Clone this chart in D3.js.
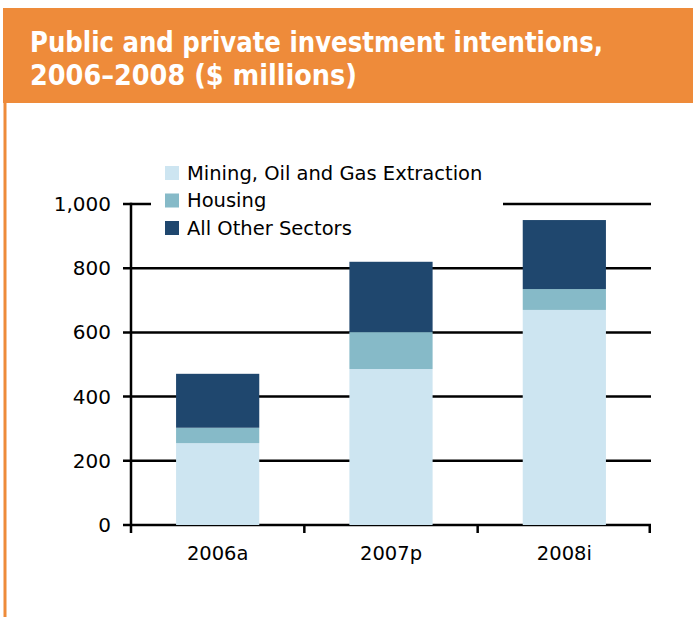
<!DOCTYPE html>
<html>
<head>
<meta charset="utf-8">
<script src="https://cdn.jsdelivr.net/npm/d3@7/dist/d3.min.js"></script>
<style>
  html, body { margin: 0; padding: 0; background: #fff; }
  svg { display: block; }
  text { font-family: "DejaVu Sans", sans-serif; }
</style>
</head>
<body>
<svg id="chart" width="693" height="617"></svg>
<script>
// Investment intentions by year, $ millions
const categories = ["2006a", "2007p", "2008i"];
const seriesNames = ["Mining, Oil and Gas Extraction", "Housing", "All Other Sectors"];
const mining = [255, 486, 670];
const housing = [48, 115, 65];
const otherSectors = [168, 219, 215];
const yTicks = [0, 200, 400, 600, 800, 1000];
const colors = ["#cde5f1", "#86bac8", "#1f476e"];

const titleLines = ["Public and private investment intentions,", "2006\u20132008 ($ millions)"];
const titleWidths = [573, 327];

const svg = d3.select("#chart");
const orange = "#ee8b3a";

// Header band and left rule
svg.append("rect").attr("x", 3).attr("y", 8).attr("width", 690).attr("height", 95).attr("fill", orange);
svg.append("rect").attr("x", 3.5).attr("y", 100).attr("width", 3).attr("height", 517).attr("fill", orange);

svg.append("g").selectAll("text").data(titleLines).join("text")
  .attr("x", 30)
  .attr("y", (d, i) => 52 + i * 33)
  .attr("fill", "#fff")
  .attr("font-size", 29)
  .attr("font-weight", "bold")
  .style("font-stretch", "condensed")
  .attr("textLength", (d, i) => titleWidths[i])
  .attr("lengthAdjust", "spacingAndGlyphs")
  .text(d => d);

// Scales
const x = d3.scaleBand().domain(categories).range([131, 651]).padding(0);
const y = d3.scaleLinear().domain([0, 1000]).range([525, 204]);
const barW = x.bandwidth() * 0.48;

const table = categories.map((c, i) => ({
  cat: c,
  [seriesNames[0]]: mining[i],
  [seriesNames[1]]: housing[i],
  [seriesNames[2]]: otherSectors[i]
}));
const stacked = d3.stack().keys(seriesNames)(table);

// Gridlines (sit behind the bars)
const lineW = 2.5;
svg.append("g").selectAll("line").data(yTicks).join("line")
  .attr("x1", 123).attr("x2", 651)
  .attr("y1", d => y(d)).attr("y2", d => y(d))
  .attr("stroke", "#000").attr("stroke-width", lineW);

// Y axis labels
const yAxis = d3.axisLeft(y).tickValues(yTicks).tickSize(0).tickPadding(0)
  .tickFormat(d3.format(","));
const yg = svg.append("g").attr("transform", "translate(111,0)").call(yAxis);
yg.select(".domain").remove();
yg.selectAll("text").attr("font-size", 20).attr("fill", "#000")
  .attr("font-family", "DejaVu Sans");

// Bars
svg.append("g").selectAll("g").data(stacked).join("g")
  .attr("fill", (d, i) => colors[i])
  .selectAll("rect").data(d => d).join("rect")
  .attr("x", d => x(d.data.cat) + (x.bandwidth() - barW) / 2)
  .attr("width", barW)
  .attr("y", d => y(d[1]))
  .attr("height", d => y(d[0]) - y(d[1]));

// Vertical axis line
svg.append("line").attr("x1", 131).attr("x2", 131).attr("y1", y(1000) - 1.2).attr("y2", 533)
  .attr("stroke", "#000").attr("stroke-width", lineW);

// Category boundary ticks
const bounds = categories.map(c => x(c)).concat([x(categories[categories.length - 1]) + x.bandwidth()]);
svg.append("g").selectAll("line").data(bounds.slice(1)).join("line")
  .attr("x1", d => d - (d === bounds[bounds.length - 1] ? lineW / 2 : 0))
  .attr("x2", d => d - (d === bounds[bounds.length - 1] ? lineW / 2 : 0))
  .attr("y1", y(0)).attr("y2", 533)
  .attr("stroke", "#000").attr("stroke-width", lineW);

// X axis labels
const xAxis = d3.axisBottom(x).tickSize(0).tickPadding(0);
const xg = svg.append("g").attr("transform", "translate(0,546)").call(xAxis);
xg.select(".domain").remove();
xg.selectAll("text").attr("font-size", 19.5).attr("fill", "#000")
  .attr("font-family", "DejaVu Sans");

// Legend
const legend = svg.append("g");
legend.append("rect").attr("x", 151).attr("y", 155).attr("width", 352).attr("height", 90).attr("fill", "#fff");
const items = legend.selectAll("g.item").data(seriesNames).join("g").attr("class", "item")
  .attr("transform", (d, i) => `translate(165,${166 + i * 27.5})`);
items.append("rect").attr("width", 14).attr("height", 14).attr("fill", (d, i) => colors[i]);
items.append("text").attr("x", 22).attr("y", 13.5)
  .attr("font-size", 19.5).attr("fill", "#000").text(d => d);
</script>
</body>
</html>
